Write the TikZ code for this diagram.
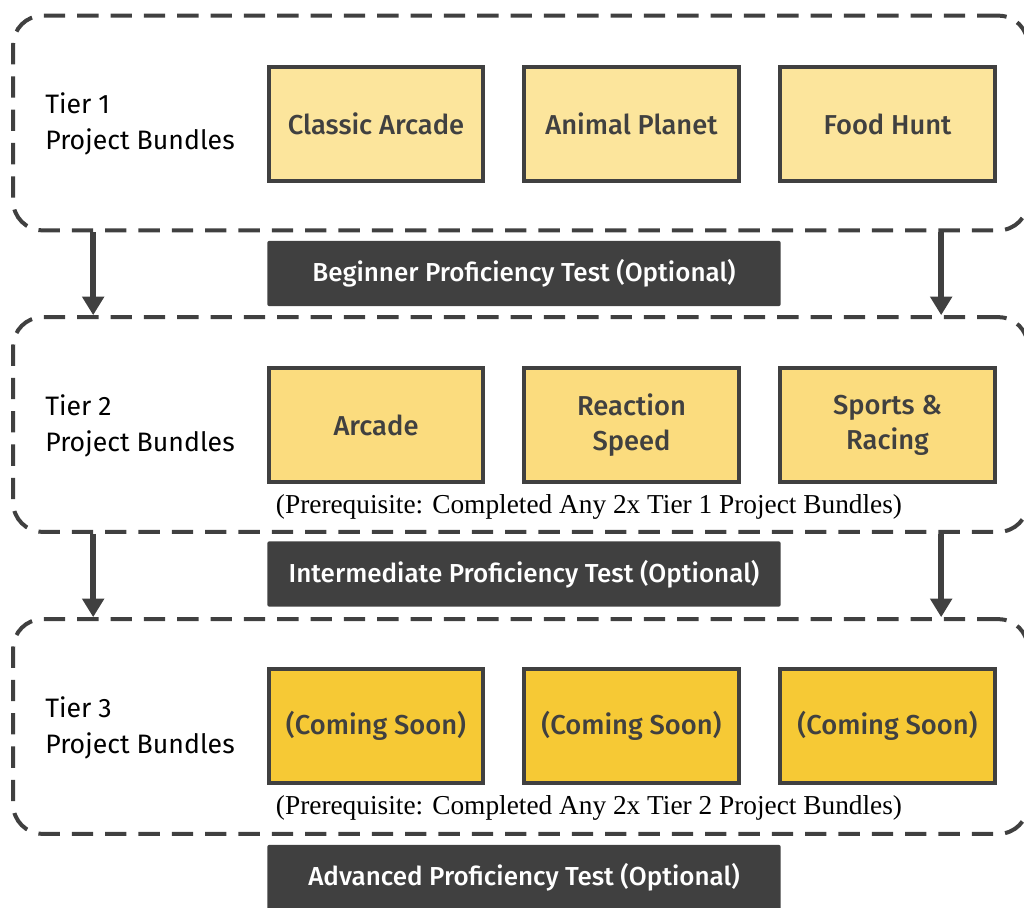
\documentclass[tikz,border=0pt]{standalone}
\usepackage{fontspec}
\setmainfont{Fira Sans}
\newfontfamily\boxfont{Fira Sans}[UprightFont=* Medium]
\newfontfamily\notefont{Liberation Serif}
\usetikzlibrary{arrows.meta,positioning}
\definecolor{darkgray}{HTML}{404040}
\definecolor{paleyellow}{HTML}{FCE59C}
\definecolor{midyellow}{HTML}{FBDC7E}
\definecolor{deepyellow}{HTML}{F6C935}
\tikzset{
  tierbox/.style={rectangle, rounded corners=22pt, draw=darkgray, dashed, dash pattern=on 16pt off 9pt, line width=3pt, minimum width=761pt, minimum height=161pt},
  bundle/.style={rectangle, draw=darkgray, line width=3pt, minimum width=161pt, minimum height=85pt, align=center, text=darkgray, font=\boxfont\fontsize{20.5}{26}\selectfont},
  testbar/.style={rectangle, rounded corners=1.5pt, fill=darkgray, text=white, minimum width=385pt, minimum height=49pt, font=\boxfont\fontsize{19.5}{23}\selectfont},
  tierlabel/.style={anchor=west, align=left, inner sep=0pt, font=\fontsize{20}{27}\selectfont},
  note/.style={font=\notefont\fontsize{20.5}{24}\selectfont},
  flow/.style={-{Triangle[width=16pt,length=14pt]}, line width=4.5pt, draw=darkgray},
}
\begin{document}
\begin{tikzpicture}[x=0.75pt, y=-0.75pt]
\useasboundingbox (0,0) rectangle (1024,907);

% tier containers
\node[tierbox] (tier1) at (520.5,123) {};
\node[tierbox] (tier2) at (520.5,424.5) {};
\node[tierbox] (tier3) at (520.5,726.5) {};

\node[tierlabel] (lab1) at (45,124) {Tier 1\\Project Bundles};
\node[tierlabel] (lab2) at (45,426) {Tier 2\\Project Bundles};
\node[tierlabel] (lab3) at (45,728) {Tier 3\\Project Bundles};

% tier 1
\node[bundle, fill=paleyellow] (classic) at (376,124) {Classic Arcade};
\node[bundle, fill=paleyellow] (animal) at (631.5,124) {Animal Planet};
\node[bundle, fill=paleyellow] (food) at (887.5,124) {Food Hunt};
% tier 2
\node[bundle, fill=midyellow] (arcade) at (376,425) {Arcade};
\node[bundle, fill=midyellow] (reaction) at (631.5,425) {Reaction\\Speed};
\node[bundle, fill=midyellow] (sports) at (887.5,425) {Sports \&\\Racing};
% tier 3
\node[bundle, fill=deepyellow] (soon1) at (376,726) {(Coming Soon)};
\node[bundle, fill=deepyellow] (soon2) at (631.5,726) {(Coming Soon)};
\node[bundle, fill=deepyellow] (soon3) at (887.5,726) {(Coming Soon)};

\node[note] (pre2) at (589,507) {(Prerequisite: Completed Any 2x Tier 1 Project Bundles)};
\node[note] (pre3) at (589,808) {(Prerequisite: Completed Any 2x Tier 2 Project Bundles)};

% tests
\node[testbar] (beginner) at (524,273.5) {Beginner Proficiency Test (Optional)};
\node[testbar] (intermediate) at (524,574) {Intermediate Proficiency Test (Optional)};
\node[testbar] (advanced) at (524,877.5) {Advanced Proficiency Test (Optional)};

\draw[flow] ([xshift=61.5pt]tier1.south west) -- ([xshift=61.5pt]tier2.north west);
\draw[flow] ([xshift=697.5pt]tier1.south west) -- ([xshift=697.5pt]tier2.north west);
\draw[flow] ([xshift=61.5pt]tier2.south west) -- ([xshift=61.5pt]tier3.north west);
\draw[flow] ([xshift=697.5pt]tier2.south west) -- ([xshift=697.5pt]tier3.north west);

\end{tikzpicture}
\end{document}
